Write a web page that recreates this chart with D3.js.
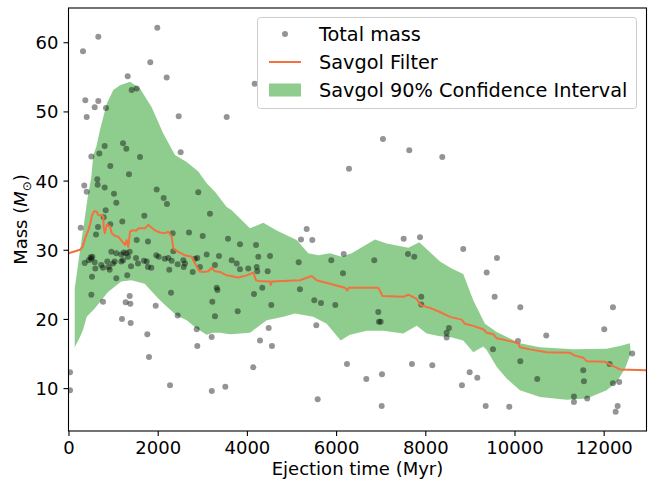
<!DOCTYPE html>
<html><head><meta charset="utf-8">
<script src="https://cdn.jsdelivr.net/npm/d3@7/dist/d3.min.js"></script>
<style>body{margin:0;background:#fff}text{font-family:"DejaVu Sans",sans-serif}</style>
</head><body>
<svg id="c" width="658" height="482"></svg>
<script>
// ---- data ----
const ejectionTime = [325,668,1991,1834,2201,1327,1417,1529,377,668,587,841,408,2471,3547,4175,811,691,512,1222,1296,1603,2515,937,1356,646,654,354,408,811,1020,1072,834,789,1977,2134,2208,2910,3172,1700,1206,937,661,273,617,1529,1782,2336,2702,3009,3576,3845,4205,960,1072,1184,1296,1372,1334,497,534,453,363,587,601,735,773,870,901,924,998,1036,1184,1222,1558,1693,1753,1782,1857,1969,2022,2157,527,1072,1318,512,1372,773,1282,1386,1955,1199,1394,510,1240,1401,1513,2350,2238,2313,2448,2574,2612,2583,2836,2888,2948,2785,2260,3098,3374,3284,3659,3771,3845,4031,4219,4256,4345,3323,3340,2298,4159,3224,3794,2448,3284,2874,1767,2888,3210,1805,4294,34,34,2276,3213,3516,4143,4547,5511,5661,5982,6946,6960,7000,5556,4488,4562,6244,6677,7029,7701,8157,5587,7022,7910,7910,8479,8479,7051,7641,8381,6289,5340,5213,5466,7515,7881,6170,4518,4233,4466,5161,5892,6856,7612,7753,6154,5190,8851,9607,9376,9555,10130,12208,8531,12013,10712,10078,9517,10130,12640,12133,11542,8995,9166,10510,11557,12208,12349,8822,11333,11333,11632,9354,9883,12313,12268];
const totalMass = [58.7,60.8,62.1,57.1,54.9,55.1,53.1,53.3,51.6,51.5,50.6,50.5,49.2,49.3,49.2,54.0,45.0,43.9,43.5,45.4,44.6,43.4,44.1,42.1,40.9,40.2,39.4,39.3,38.4,39.0,38.1,36.8,35.7,34.7,38.7,37.5,36.6,38.3,35.2,34.9,34.1,33.7,33.3,33.2,32.2,31.4,31.2,32.4,32.5,32.0,31.6,30.8,30.7,29.7,29.5,29.3,29.5,29.7,29.0,28.9,29.0,28.5,28.1,28.2,27.3,27.8,27.4,28.3,27.5,27.1,28.0,28.3,28.3,28.5,28.0,28.4,28.3,27.5,27.4,29.2,29.0,28.7,26.1,25.9,26.3,23.5,23.3,22.5,22.4,22.2,21.9,20.0,19.4,28.7,29.6,27.6,28.8,29.8,28.8,28.4,27.9,28.5,28.0,27.5,28.7,28.8,27.5,26.8,27.1,29.3,29.1,27.8,28.5,28.0,27.2,27.3,27.5,29.0,24.5,24.5,24.2,23.8,23.6,22.5,21.1,20.5,20.4,18.5,17.8,16.1,17.4,14.5,16.9,12.3,9.7,10.4,9.6,10.2,13.0,22.0,22.7,22.3,22.0,21.0,19.6,19.6,19.1,18.7,16.1,13.5,11.3,12.0,13.5,13.3,8.4,7.4,23.2,22.1,18.0,17.3,46.0,44.4,43.4,41.7,33.0,31.5,31.4,31.6,31.8,29.4,29.1,26.9,26.9,28.2,28.5,28.5,29.4,29.0,26.6,24.3,30.1,28.8,26.7,23.2,21.7,21.7,18.7,18.5,17.6,16.8,15.6,13.9,15.0,13.5,12.6,12.3,11.5,11.3,11.0,10.7,10.9,10.4,8.8,8.0,8.5,7.4,7.3,7.4,6.6];

const savgolTime = [0,258,318,370,444,497,527,579,632,668,744,780,790,818,856,930,968,1043,1117,1192,1267,1305,1341,1379,1417,1529,1565,1715,1789,1843,1939,2051,2164,2238,2313,2350,2462,2612,2762,2836,2933,3023,3135,3210,3284,3397,3547,3807,3995,4143,4204,4256,4518,4533,4560,5190,5452,5564,6199,6251,6280,6946,7044,7507,7619,7806,7896,8143,8329,8553,8815,8890,9076,9300,9376,9525,9600,9824,10085,10122,10347,10721,11244,11356,11542,11617,12028,12178,12365,12960];
const savgolMass = [29.5,30.0,30.4,31.6,32.8,34.0,35.0,35.6,35.5,35.0,35.0,34.8,33.1,32.4,33.6,33.4,32.4,32.0,31.9,31.3,30.7,31.4,30.4,32.6,32.8,32.8,33.1,33.1,33.6,33.3,32.8,32.5,32.4,32.6,31.9,30.2,29.7,29.2,29.0,28.0,26.9,26.8,26.9,27.4,26.9,26.8,26.3,26.0,26.3,26.7,25.6,25.5,25.4,24.9,25.4,25.6,26.2,25.6,24.5,24.1,24.5,24.5,23.3,23.2,23.5,22.9,22.0,21.5,21.0,20.3,19.9,19.3,19.0,18.5,18.0,17.8,17.2,16.9,16.5,15.9,15.6,15.2,15.1,14.7,14.4,13.9,13.8,13.3,12.7,12.6];

const ciUpperTime = [139,258,370,437,511,556,623,706,856,1004,1155,1379,1603,1865,2125,2388,2650,2910,3098,3284,3547,3659,4069,4367,4668,5116,5376,5601,5863,6125,6349,6872,7134,7619,7865,8179,8329,8591,8851,9076,9152,9338,9600,10122,10571,11318,12067,12365,12589,12605];
const ciUpper = [24.4,29.9,34.8,37.9,40.5,43.7,44.9,47.3,51.1,53.1,53.8,54.3,53.3,50.6,46.8,43.7,42.7,41.3,39.6,38.4,36.2,35.7,33.1,33.9,32.8,31.4,29.5,29.2,29.5,29.0,29.5,31.5,30.9,30.3,31.1,29.2,28.3,27.3,26.5,22.7,21.7,19.3,18.1,16.5,15.9,15.6,15.7,16.1,16.5,15.0];
const ciLowerTime = [139,258,325,408,587,886,1184,1408,1708,2007,2164,2426,2650,2874,3098,3246,3397,3621,4069,4444,4816,5078,5489,5789,6103,6311,6686,7058,7507,7807,8031,8329,8553,8851,9076,9300,9376,9600,9824,10122,10571,11170,11618,12067,12291,12477,12605];
const ciLower = [15.9,17.4,18.4,20.3,21.5,23.9,25.4,25.6,25.1,23.0,22.0,20.5,19.8,18.6,17.7,18.0,18.0,17.8,18.0,19.8,20.3,20.8,20.3,19.3,16.9,17.7,18.3,18.3,17.9,19.0,17.9,17.5,17.4,16.9,15.2,16.0,15.5,13.1,11.4,9.7,8.7,8.3,8.5,9.7,10.9,12.8,15.0];

const xTicks = [0,2000,4000,6000,8000,10000,12000];
const yTicks = [10,20,30,40,50,60];
const legendLabels = ["Total mass","Savgol Filter","Savgol 90% Confidence Interval"];

// ---- drawing ----
const svg = d3.select("#c");
const L = 68.5, R = 646.5, T = 8, B = 431;
const x = d3.scaleLinear().domain([0, 12960]).range([L, R]);
const y = d3.scaleLinear().domain([3.8, 64.95]).range([B, T]);
const green = "#2ca02c", orange = "#f4703e";

svg.append("defs").append("clipPath").attr("id","clip")
  .append("rect").attr("x",L).attr("y",T).attr("width",R-L).attr("height",B-T);

const plot = svg.append("g").attr("clip-path","url(#clip)");

// confidence band polygon
const band = ciUpperTime.map((t,i)=>[t,ciUpper[i]])
  .concat(ciLowerTime.map((t,i)=>[t,ciLower[i]]).reverse());
plot.append("path")
  .attr("d", d3.line().x(d=>x(d[0])).y(d=>y(d[1]))(band) + "Z")
  .attr("fill", green).attr("fill-opacity", 0.53).attr("stroke","none");

// points
plot.append("g").selectAll("circle").data(ejectionTime.map((t,i)=>[t,totalMass[i]]))
  .join("circle").attr("cx",d=>x(d[0])).attr("cy",d=>y(d[1])).attr("r",3)
  .attr("fill","#000").attr("fill-opacity",0.42);

// savgol line
plot.append("path")
  .attr("d", d3.line().x((d,i)=>x(savgolTime[i])).y(d=>y(d))(savgolMass))
  .attr("fill","none").attr("stroke",orange).attr("stroke-width",2).attr("stroke-linejoin","round");

// axes
const fs = 18;
const xAxis = svg.append("g").attr("transform",`translate(0,${B})`)
  .call(d3.axisBottom(x).tickValues(xTicks).tickFormat(d3.format("d")).tickSizeOuter(0).tickSize(5).tickPadding(5));
const yAxis = svg.append("g").attr("transform",`translate(${L},0)`)
  .call(d3.axisLeft(y).tickValues(yTicks).tickFormat(d3.format("d")).tickSizeOuter(0).tickSize(5).tickPadding(5));
[xAxis,yAxis].forEach(a=>{
  a.select(".domain").remove();
  a.selectAll("line").attr("stroke","#000").attr("stroke-width",1.1);
  a.selectAll("text").attr("font-size",fs).attr("fill","#000").attr("font-family","DejaVu Sans");
});
yAxis.selectAll("text").attr("dy","0.36em");

// frame
svg.append("rect").attr("x",L).attr("y",T).attr("width",R-L).attr("height",B-T)
  .attr("fill","none").attr("stroke","#000").attr("stroke-width",1.1);

// axis labels
svg.append("text").attr("x",(L+R)/2).attr("y",475).attr("text-anchor","middle")
  .attr("font-size",fs).text("Ejection time (Myr)");
const yl = svg.append("text").attr("transform",`translate(27,${(T+B)/2}) rotate(-90)`)
  .attr("text-anchor","middle").attr("font-size",fs);
yl.append("tspan").text("Mass (");
yl.append("tspan").attr("font-style","italic").text("M");
yl.append("tspan").attr("font-size",12).attr("dy",4).text("\u2299");
yl.append("tspan").attr("dy",-4).text(")");

// legend
const lfs = 19.3;
const lg = svg.append("g");
lg.append("rect").attr("x",257.5).attr("y",17.5).attr("width",379).attr("height",91).attr("rx",3)
  .attr("fill","#fff").attr("fill-opacity",0.8).attr("stroke","#cccccc");
const rows = [34, 62, 90];
lg.append("circle").attr("cx",285).attr("cy",rows[0]).attr("r",3).attr("fill","#000").attr("fill-opacity",0.42);
lg.append("line").attr("x1",269).attr("x2",301).attr("y1",rows[1]).attr("y2",rows[1]).attr("stroke",orange).attr("stroke-width",2);
lg.append("rect").attr("x",269).attr("y",rows[2]-6.5).attr("width",32).attr("height",13).attr("fill",green).attr("fill-opacity",0.53);
legendLabels.forEach((t,i)=>{
  lg.append("text").attr("x",319).attr("y",rows[i]).attr("dy","0.36em").attr("font-size",lfs).text(t);
});
</script>
</body></html>
